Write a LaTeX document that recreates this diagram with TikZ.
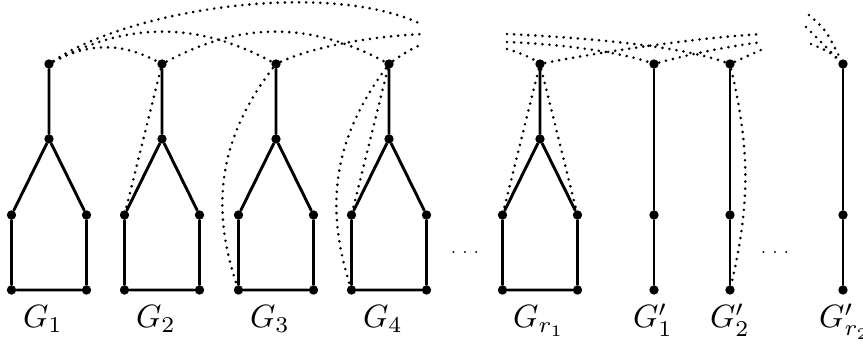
\documentclass[tikz,border=0pt]{standalone}

\begin{document}
\begin{tikzpicture}[
  x=0.31pt, y=0.31pt,
  every path/.style={line cap=round},
  vertex/.style={circle, fill=black, minimum size=2.9pt, inner sep=0pt},
  edge/.style={line width=.9pt},
  link/.style={line width=.9pt, dash pattern=on 0pt off 2.2pt},
  glabel/.style={anchor=base},
]
\useasboundingbox (0,0) rectangle (863,344);

% ---------- house gadgets G_1 ... G_{r_1} ----------
\foreach \i/\x in {1/49, 2/162, 3/276, 4/389, r/540} {
  \node[vertex] (t\i)  at (\x,280)      {};
  \node[vertex] (m\i)  at (\x,205)      {};
  \node[vertex] (l\i)  at (\x-37.5,129) {};
  \node[vertex] (r\i)  at (\x+37.5,129) {};
  \node[vertex] (bl\i) at (\x-37.5,54)  {};
  \node[vertex] (br\i) at (\x+37.5,54)  {};
  \draw[edge] (t\i) -- (m\i) -- (l\i) -- (bl\i) -- (br\i) -- (r\i) -- (m\i);
}

% ---------- paths G'_1 ... G'_{r_2} ----------
\foreach \i/\x in {1/654, 2/730, r/843} {
  \node[vertex] (pt\i) at (\x,280) {};
  \node[vertex] (pm\i) at (\x,129) {};
  \node[vertex] (pb\i) at (\x,54)  {};
  \draw[edge] (pt\i) -- (pm\i) -- (pb\i);
}

% ---------- labels ----------
\foreach \x/\t in {43/G_1, 156/G_2, 270/G_3, 383/G_4, 539/G_{r_1},
                   653/G'_1, 730/G'_2, 845/G'_{r_2}}
  \node[glabel] (lab\x) at (\x,16) {$\t$};
\node[font=\tiny] (dotsa) at (465,91) {$\cdots$};
\node[font=\tiny] (dotsb) at (775,91) {$\cdots$};

% ---------- loose ends of the dotted edges ----------
\coordinate (e1) at (423,319);
\coordinate (e3) at (423,310);
\coordinate (e4) at (423,300);
\coordinate (s1) at (507,310);
\coordinate (s2) at (507,302);
\coordinate (s3) at (507,295);
\coordinate (f1) at (763,310);
\coordinate (f2) at (763,302);
\coordinate (f3) at (763,295);
\coordinate (g1) at (809,329);
\coordinate (g2) at (806,317);
\coordinate (g3) at (811,300);

% ---------- dotted edges between the tops ----------
\draw[link] (t1) .. controls (130,335) and (330,365) .. (e1);
\draw[link] (t1) to[bend left=28] (t2);
\draw[link] (t1) to[bend left=28] (t3);
\draw[link] (t2) to[bend left=28] (t4);
\draw[link] (t3) .. controls (320,300) and (380,308) .. (e3);
\draw[link] (t4) .. controls (400,288) and (412,296) .. (e4);

\draw[link] (s1) .. controls (590,306) and (680,298) .. (pt2);
\draw[link] (s2) .. controls (560,300) and (620,292) .. (pt1);
\draw[link] (s3) .. controls (520,291) and (530,287) .. (tr);
\draw[link] (tr) .. controls (590,290) and (690,306) .. (f1);
\draw[link] (pt1) .. controls (690,290) and (730,298) .. (f2);
\draw[link] (pt2) -- (f3);

\draw[link] (g1) .. controls (826,314) .. (ptr);
\draw[link] (g2) -- (ptr);
\draw[link] (g3) .. controls (830,292) .. (ptr);

% ---------- dotted edges down into the gadgets ----------
\draw[link] (t2) -- (l2);
\draw[link] (t3) to[bend right=28] (bl3);
\draw[link] (t4) -- (l4);
\draw[link] (t4) to[bend right=27] (bl4);
\draw[link] (tr) -- (lr);
\draw[link] (tr) -- (rr);
\draw[link] (pt2) to[bend left=13] (pb2);

\end{tikzpicture}
\end{document}
